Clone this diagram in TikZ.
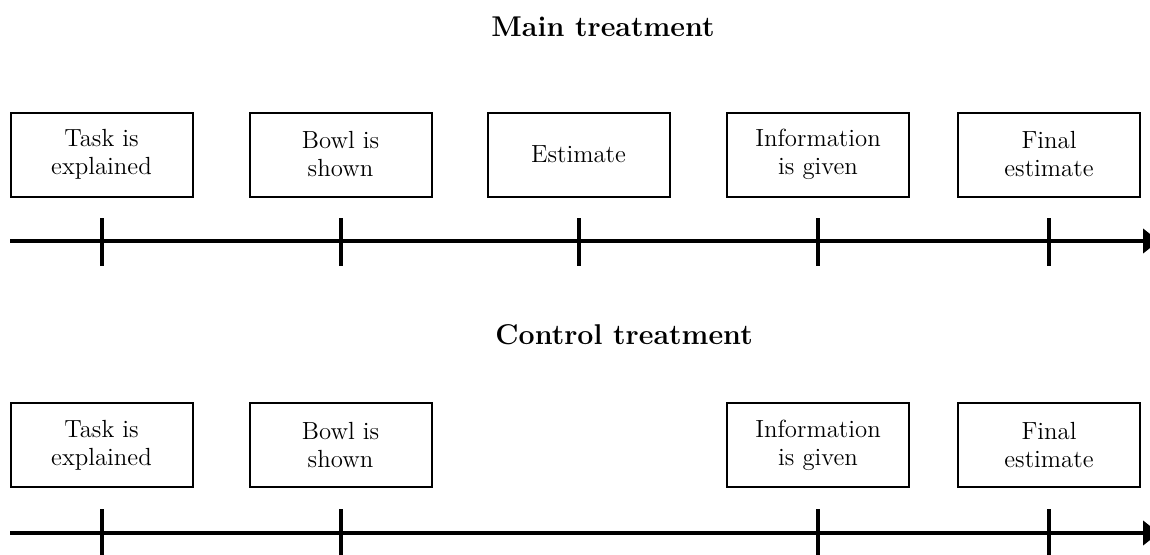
\documentclass[tikz,border=0pt]{standalone}
\usetikzlibrary{arrows.meta}
\begin{document}
\begin{tikzpicture}[x=0.5pt,y=-0.5pt,
  stepbox/.style={draw, line width=1pt, minimum width=91pt, minimum height=42pt,
    inner sep=0pt, align=center, font=\fontsize{12.4}{14}\selectfont},
  ttl/.style={font=\fontsize{14.3}{17}\selectfont\bfseries, inner sep=0pt, anchor=base west},
  axisline/.style={line width=2pt, -{Triangle[length=8pt,width=12pt]}},
  tick/.style={line width=2pt}]
\useasboundingbox (0,0) rectangle (1150,554);
% titles
\node[ttl] (t1) at (491,36) {Main treatment};
\node[ttl] (t2) at (495,344) {Control treatment};
% main row
\foreach \n/\x/\txt in {a1/101.5/{Task is\\explained}, a2/340.5/{Bowl is\\shown}, a3/578.5/{Estimate}, a4/818/{Information\\is given}, a5/1049/{Final\\estimate}}{
  \node[stepbox] (\n) at (\x,154.5) {\txt};
  \coordinate (\n u) at (\x,218);
  \coordinate (\n d) at (\x,266);
  \draw[tick] (\n u) -- (\n d);
}
\coordinate (s1) at (10,241);
\coordinate (e1) at (1159,241);
\draw[axisline] (s1) -- (e1);
% control row
\foreach \n/\x/\txt in {b1/101.5/{Task is\\explained}, b2/340.5/{Bowl is\\shown}, b4/818/{Information\\is given}, b5/1049/{Final\\estimate}}{
  \node[stepbox] (\n) at (\x,445) {\txt};
  \coordinate (\n u) at (\x,509);
  \coordinate (\n d) at (\x,557);
  \draw[tick] (\n u) -- (\n d);
}
\coordinate (s2) at (10,533);
\coordinate (e2) at (1159,533);
\draw[axisline] (s2) -- (e2);
\end{tikzpicture}
\end{document}
